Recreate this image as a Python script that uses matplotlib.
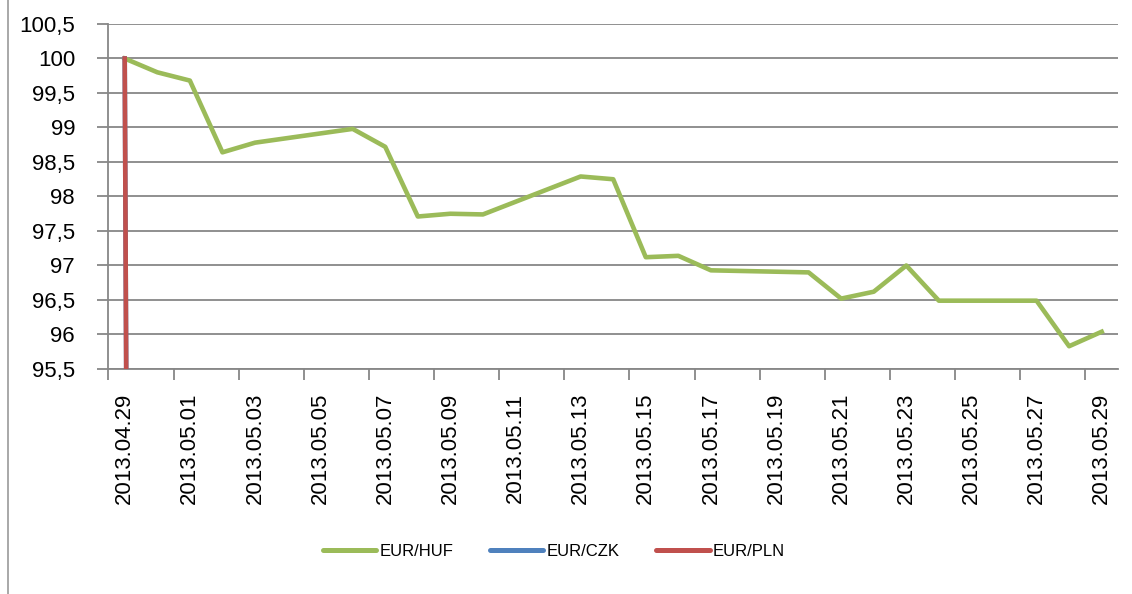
"""Rebuild the EUR/HUF, EUR/CZK, EUR/PLN index chart (2013.04.29 = 100)."""

from __future__ import annotations

import datetime as dt

import matplotlib
import matplotlib.dates as mdates
import numpy as np

matplotlib.use("Agg")
import matplotlib.pyplot as plt
from matplotlib.font_manager import FontProperties
from matplotlib.lines import Line2D


HUF_DATES = [
    "2013.04.29", "2013.04.30", "2013.05.01", "2013.05.02", "2013.05.03",
    "2013.05.06", "2013.05.07", "2013.05.08", "2013.05.09", "2013.05.10",
    "2013.05.13", "2013.05.14", "2013.05.15", "2013.05.16", "2013.05.17",
    "2013.05.20", "2013.05.21", "2013.05.22", "2013.05.23", "2013.05.24",
    "2013.05.27", "2013.05.28", "2013.05.29",
]
HUF_VALUES = [
    100.00, 99.80, 99.68, 98.64, 98.78,
    98.98, 98.72, 97.71, 97.75, 97.74,
    98.29, 98.25, 97.12, 97.14, 96.93,
    96.90, 96.52, 96.62, 97.00, 96.49,
    96.49, 95.83, 96.04,
]
# CZK and PLN only have the base value, the next cell is empty (read as 0)
CZK_DATES = ["2013.04.29", "2013.04.30"]
CZK_VALUES = [100.0, 0.0]
PLN_DATES = ["2013.04.29", "2013.04.30"]
PLN_VALUES = [100.0, 0.0]

SERIES_LABELS = ["EUR/HUF", "EUR/CZK", "EUR/PLN"]
SERIES_COLORS = ["#9BBB59", "#4F81BD", "#C0504D"]

FIRST_DAY = "2013.04.29"
LAST_DAY = "2013.05.29"
Y_MIN, Y_MAX, Y_STEP = 95.5, 100.5, 0.5

GRID_COLOR = "#878787"
FONT = ["Liberation Sans", "DejaVu Sans"]


def main() -> None:
    fig, ax = plt.subplots(figsize=(11.32, 5.94), dpi=100)
    fig.subplots_adjust(left=0.0958, right=0.9876, top=0.9596, bottom=0.3788)

    series = [
        (HUF_DATES, HUF_VALUES),
        (CZK_DATES, CZK_VALUES),
        (PLN_DATES, PLN_VALUES),
    ]
    for (dates, values), label, color in zip(series, SERIES_LABELS, SERIES_COLORS):
        ax.plot(
            [_day(d) for d in dates],
            values,
            color=color,
            linewidth=3.3,
            solid_joinstyle="round",
            label=label,
            zorder=3,
        )

    _style_axes(ax)

    handles, labels = ax.get_legend_handles_labels()
    legend = fig.legend(
        handles,
        labels,
        loc="center",
        bbox_to_anchor=(554 / 1132, 1 - 551 / 594),
        ncol=3,
        frameon=False,
        handlelength=3.2,
        handletextpad=0.2,
        columnspacing=2.2,
        prop=FontProperties(family=FONT, size=12),
    )
    for line in legend.get_lines():
        line.set_solid_capstyle("round")
        line.set_linewidth(3.6)

    # left edge of the chart area border
    fig.add_artist(Line2D([8 / 1132, 8 / 1132], [0, 1], color="#9A9A9A", linewidth=1.2))

    fig.savefig("out.png")
    plt.close(fig)


def _day(text: str) -> float:
    return mdates.date2num(dt.datetime.strptime(text, "%Y.%m.%d"))


def _style_axes(ax) -> None:
    first = _day(FIRST_DAY)
    last = _day(LAST_DAY)
    ax.set_xlim(first - 0.5, last + 0.5)
    ax.set_ylim(Y_MIN, Y_MAX)

    label_days = np.arange(first, last + 1, 2)
    ax.set_xticks(label_days - 0.5)
    ax.set_xticklabels([])
    ax.set_xticks(label_days, minor=True)
    ax.set_xticklabels(
        [mdates.num2date(d).strftime("%Y.%m.%d") for d in label_days],
        minor=True,
        rotation=90,
        fontsize=16,
        family=FONT,
    )
    ax.tick_params(axis="x", which="major", length=8, width=1.3, color=GRID_COLOR, direction="out")
    ax.tick_params(axis="x", which="minor", length=0, pad=17)

    yticks = np.arange(Y_MIN, Y_MAX + Y_STEP / 2, Y_STEP)
    ax.set_yticks(yticks)
    ax.set_yticklabels([f"{v:g}".replace(".", ",") for v in yticks], fontsize=16, family=FONT)
    ax.tick_params(axis="y", length=8, width=1.3, color=GRID_COLOR, pad=16)

    ax.grid(axis="y", color=GRID_COLOR, linewidth=1.3, zorder=1)
    ax.set_axisbelow(True)
    for side in ("top", "right"):
        ax.spines[side].set_visible(False)
    for side in ("left", "bottom"):
        ax.spines[side].set_color(GRID_COLOR)
        ax.spines[side].set_linewidth(1.3)


if __name__ == "__main__":
    main()
